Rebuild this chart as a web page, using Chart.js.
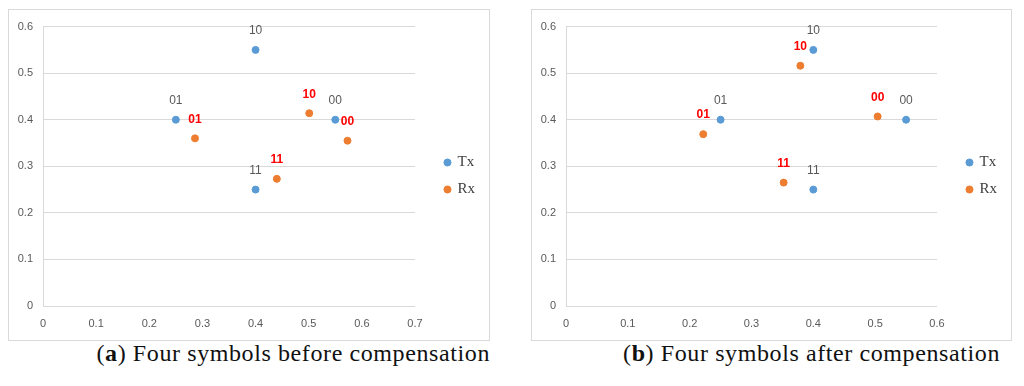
<!DOCTYPE html>
<html>
<head>
<meta charset="utf-8">
<script src="https://cdn.jsdelivr.net/npm/chart.js@4.4.1/dist/chart.umd.min.js"></script>
<style>
  body { margin: 0; background: #fff; width: 1024px; height: 386px; position: relative; overflow: hidden; }
  .panel { position: absolute; top: 9px; height: 332px; border: 1px solid #d9d9d9; box-sizing: border-box; }
  .panel canvas { position: absolute; left: 0; top: 0; }
  .caption { position: absolute; top: 340px; font-family: "Liberation Serif", serif; font-size: 24px; letter-spacing: 0.6px; color: #111; white-space: nowrap; text-align: right; }
</style>
</head>
<body>
<div class="panel" style="left:8px;width:482px;"><canvas id="chartA" width="480" height="330"></canvas></div>
<div class="panel" style="left:531px;width:481px;"><canvas id="chartB" width="479" height="330"></canvas></div>
<div class="caption" style="left:40px;width:450px;">(<b>a</b>) Four symbols before compensation</div>
<div class="caption" style="left:560px;width:440px;">(<b>b</b>) Four symbols after compensation</div>

<script>
// symbol names shown next to each point
const symbols = ["01", "10", "11", "00"];

// transmitted constellation (same in both panels)
const txX = [0.25, 0.4, 0.4, 0.55];
const txY = [0.4, 0.55, 0.25, 0.4];

// received, before compensation
const rxBeforeX = [0.286, 0.501, 0.44, 0.573];
const rxBeforeY = [0.36, 0.414, 0.273, 0.355];

// received, after compensation
const rxAfterX = [0.222, 0.379, 0.352, 0.504];
const rxAfterY = [0.369, 0.516, 0.265, 0.407];

const yTicks = ["0", "0.1", "0.2", "0.3", "0.4", "0.5", "0.6"];
const xTicksA = ["0", "0.1", "0.2", "0.3", "0.4", "0.5", "0.6", "0.7"];
const xTicksB = ["0", "0.1", "0.2", "0.3", "0.4", "0.5", "0.6"];

const toPoints = (xs, ys) => xs.map((x, i) => ({ x: x, y: ys[i] }));

// draws the symbol name above every point
const pointLabels = {
  id: "pointLabels",
  afterDatasetsDraw(chart) {
    const ctx = chart.ctx;
    ctx.save();
    ctx.textAlign = "center";
    ctx.textBaseline = "middle";
    chart.data.datasets.forEach((ds, i) => {
      const meta = chart.getDatasetMeta(i);
      ctx.font = ds.label === "Rx" ? "bold 12px 'Liberation Sans'" : "12px 'Liberation Sans'";
      ctx.fillStyle = ds.label === "Rx" ? "#ff0000" : "#595959";
      meta.data.forEach((pt, j) => {
        ctx.fillText(symbols[j], pt.x, pt.y - 19);
      });
    });
    ctx.restore();
  }
};

// push the legend a little further from the plot
const legendShift = {
  id: "legendShift",
  afterLayout(chart) {
    const lg = chart.legend;
    lg.left += 18; lg.right += 18;
    lg.top -= 7; lg.bottom -= 7;
  }
};

function makeChart(id, rxX, rxY, xMax, xTicks) {
  const tickFont = { family: "'Liberation Sans'", size: 11 };
  return new Chart(document.getElementById(id), {
    type: "scatter",
    data: {
      datasets: [
        { label: "Tx", data: toPoints(txX, txY), backgroundColor: "#5b9bd5", borderColor: "#5b9bd5", pointRadius: 3.5 },
        { label: "Rx", data: toPoints(rxX, rxY), backgroundColor: "#ed7d31", borderColor: "#ed7d31", pointRadius: 3.5 },
      ],
    },
    options: {
      responsive: false,
      animation: false,
      layout: { padding: { top: 16, right: 22, bottom: 0, left: 0 } },
      plugins: {
        tooltip: { enabled: false },
        legend: {
          position: "right",
          labels: {
            usePointStyle: true, pointStyle: "circle", boxWidth: 5, boxHeight: 5, padding: 12,
            color: "#404040", font: { family: "'Liberation Serif'", size: 15 },
          },
        },
      },
      scales: {
        x: {
          type: "linear", min: 0, max: xMax,
          ticks: { stepSize: 0.1, padding: 11, color: "#595959", font: tickFont, callback: (v, i) => xTicks[i] },
          grid: { color: "rgba(0,0,0,0)", drawTicks: false },
          border: { display: true, color: "#d9d9d9" },
          afterFit: (s) => { s.height = 34; },
        },
        y: {
          min: 0, max: 0.6,
          ticks: { stepSize: 0.1, padding: 10, color: "#595959", font: tickFont, callback: (v, i) => yTicks[i] },
          grid: { color: "#d9d9d9", drawTicks: false },
          border: { display: true, color: "#d9d9d9" },
          afterFit: (s) => { s.width = 34; },
        },
      },
    },
    plugins: [pointLabels, legendShift],
  });
}

makeChart("chartA", rxBeforeX, rxBeforeY, 0.7, xTicksA);
makeChart("chartB", rxAfterX, rxAfterY, 0.6, xTicksB);
</script>
</body>
</html>
